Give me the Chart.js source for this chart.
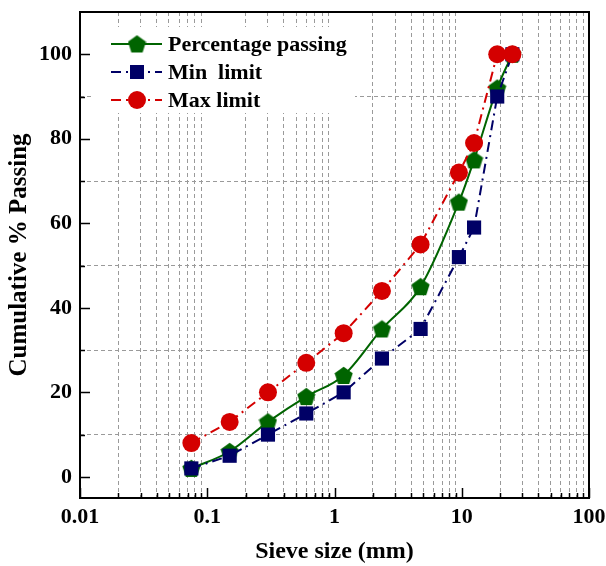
<!DOCTYPE html>
<html>
<head>
<meta charset="utf-8">
<script src="https://cdn.jsdelivr.net/npm/chart.js@4.4.1/dist/chart.umd.min.js"></script>
<style>
html,body{margin:0;padding:0;background:#fff;}
#wrap{width:606px;height:566px;position:relative;}
</style>
</head>
<body>
<div id="wrap"><canvas id="c" width="606" height="566"></canvas></div>
<script>
// ---- data ----
const sieveSizes = [0.075, 0.15, 0.3, 0.6, 1.18, 2.36, 4.75, 9.5, 12.5, 19, 25];
const percentagePassing = [2, 6, 13, 19, 24, 35, 45, 65, 75, 92, 100];
const minLimit = [2, 5, 10, 15, 20, 28, 35, 52, 59, 90, 100];
const maxLimit = [8, 13, 20, 27, 34, 44, 55, 72, 79, 100, 100];
const xDecades = [0.01, 0.1, 1, 10, 100];
const xDecadeLabels = ['0.01', '0.1', '1', '10', '100'];
const yTickValues = [0, 10, 20, 30, 40, 50, 60, 70, 80, 90, 100];
const yTickLabels = ['0', '', '20', '', '40', '', '60', '', '80', '', '100'];

const GREEN = '#006400', NAVY = '#000066', RED = '#d40000';
const FONT = '"Liberation Serif", "Times New Roman", serif';

// tick values for log axis (decades plus 2..9 multiples)
const xTickValues = [];
xDecades.forEach((d, i) => {
  xTickValues.push(d);
  if (i < xDecades.length - 1) for (let m = 2; m <= 9; m++) xTickValues.push(+(d * m).toPrecision(6));
});
function isDecade(v) { return xDecades.some(d => Math.abs(d - v) / d < 1e-6); }

// pentagon marker
function makePentagon(size, color) {
  const c = document.createElement('canvas');
  c.width = size; c.height = size;
  const g = c.getContext('2d');
  const r = size / 2, cx = size / 2, cy = size / 2 + 0.8;
  g.beginPath();
  for (let i = 0; i < 5; i++) {
    const a = -Math.PI / 2 + i * 2 * Math.PI / 5;
    const px = cx + r * Math.cos(a), py = cy + r * Math.sin(a);
    if (i === 0) g.moveTo(px, py); else g.lineTo(px, py);
  }
  g.closePath();
  g.fillStyle = color; g.fill();
  return c;
}
const pentagon = makePentagon(19, GREEN);

const toXY = (ys) => sieveSizes.map((x, i) => ({ x: x, y: ys[i] }));

const framePlugin = {
  id: 'frame',
  afterDraw(chart) {
    const { ctx, chartArea: a } = chart;
    const xs = chart.scales.x, ys = chart.scales.y;
    ctx.save();
    // legend
    ctx.fillStyle = '#fff';
    ctx.fillRect(93, 27, 262, 86);
    const rows = [
      { y: 44, color: GREEN, dash: [], label: 'Percentage passing', mk: 'pent' },
      { y: 72, color: NAVY, dash: [10, 5, 2, 5], label: 'Min  limit', mk: 'rect' },
      { y: 100, color: RED, dash: [10, 5, 2, 5], label: 'Max limit', mk: 'circ' }
    ];
    rows.forEach(r => {
      ctx.strokeStyle = r.color; ctx.lineWidth = 2; ctx.setLineDash(r.dash);
      ctx.beginPath(); ctx.moveTo(111, r.y); ctx.lineTo(162, r.y); ctx.stroke();
      ctx.setLineDash([]);
      ctx.fillStyle = r.color;
      if (r.mk === 'pent') ctx.drawImage(pentagon, 137 - 9.5, r.y - 9.5);
      if (r.mk === 'rect') ctx.fillRect(137 - 7, r.y - 7, 14, 14);
      if (r.mk === 'circ') { ctx.beginPath(); ctx.arc(137, r.y, 9, 0, Math.PI * 2); ctx.fill(); }
      ctx.fillStyle = '#000';
      ctx.font = 'bold 22px ' + FONT;
      ctx.textBaseline = 'middle'; ctx.textAlign = 'left';
      ctx.fillText(r.label, 168, r.y + 1);
    });
    // frame
    ctx.strokeStyle = '#000'; ctx.lineWidth = 2;
    ctx.strokeRect(a.left, a.top, a.right - a.left, a.bottom - a.top);
    // inward ticks
    ctx.lineWidth = 1.5;
    ctx.beginPath();
    xTickValues.forEach(v => {
      const px = Math.round(xs.getPixelForValue(v)) + 0.5;
      const len = isDecade(v) ? 10 : 5;
      ctx.moveTo(px, a.bottom); ctx.lineTo(px, a.bottom - len);
    });
    yTickValues.forEach((v, i) => {
      const py = Math.round(ys.getPixelForValue(v)) + 0.5;
      const len = (yTickLabels[i] !== '') ? 10 : 5;
      ctx.moveTo(a.left, py); ctx.lineTo(a.left + len, py);
    });
    ctx.stroke();
    ctx.restore();
  }
};

new Chart(document.getElementById('c'), {
  type: 'line',
  data: {
    datasets: [
      { label: 'Max limit', data: toXY(maxLimit), borderColor: RED, backgroundColor: RED,
        borderWidth: 2, borderDash: [10, 5, 2, 5], pointStyle: 'circle', pointRadius: 9,
        pointBorderWidth: 0, order: 0 },
      { label: 'Min  limit', data: toXY(minLimit), borderColor: NAVY, backgroundColor: NAVY,
        borderWidth: 2, borderDash: [10, 5, 2, 5], pointStyle: 'rect', pointRadius: 10,
        pointBorderWidth: 0, order: 1 },
      { label: 'Percentage passing', data: toXY(percentagePassing), borderColor: GREEN, backgroundColor: GREEN,
        borderWidth: 2, cubicInterpolationMode: 'monotone', pointStyle: pentagon, pointRadius: 9,
        pointBorderWidth: 0, order: 2 }
    ]
  },
  options: {
    responsive: false,
    animation: false,
    devicePixelRatio: 1,
    layout: { padding: { left: 0, top: 12, right: 17, bottom: 0 } },
    plugins: { legend: { display: false }, tooltip: { enabled: false } },
    scales: {
      x: {
        type: 'logarithmic', min: 0.01, max: 100,
        afterFit(s) { s.height = 68; s.paddingLeft = 0; s.paddingRight = 0; },
        afterBuildTicks(s) { s.ticks = xTickValues.map(v => ({ value: v })); },
        ticks: {
          autoSkip: false, maxRotation: 0, padding: 6, color: '#000',
          font: { family: FONT, size: 22, weight: 'bold' },
          callback(v) { const i = xDecades.findIndex(d => Math.abs(d - v) / d < 1e-6); return i >= 0 ? xDecadeLabels[i] : ''; }
        },
        grid: {
          drawTicks: false,
          color(c) { return (c.tick && !isDecade(c.tick.value)) ? '#9a9a9a' : 'rgba(0,0,0,0)'; },
          lineWidth: 1
        },
        border: { display: false, dash: [4, 3] },
        title: { display: true, text: 'Sieve size (mm)', color: '#000',
          font: { family: FONT, size: 24, weight: 'bold' }, padding: { top: 0, bottom: 0 } }
      },
      y: {
        type: 'linear', min: -5, max: 110,
        afterFit(s) { s.width = 80; s.paddingTop = 0; s.paddingBottom = 0; },
        afterBuildTicks(s) { s.ticks = yTickValues.map(v => ({ value: v })); },
        ticks: {
          autoSkip: false, padding: 8, color: '#000',
          font: { family: FONT, size: 22, weight: 'bold' },
          callback(v) { const i = yTickValues.indexOf(v); return i >= 0 ? yTickLabels[i] : ''; }
        },
        grid: {
          drawTicks: false,
          color(c) { return (c.tick && c.tick.value % 20 !== 0) ? '#9a9a9a' : 'rgba(0,0,0,0)'; },
          lineWidth: 1
        },
        border: { display: false, dash: [4, 3] },
        title: { display: true, text: 'Cumulative % Passing', color: '#000',
          font: { family: FONT, size: 25, weight: 'bold' }, padding: { top: 5, bottom: 0 } }
      }
    }
  },
  plugins: [framePlugin]
});
</script>
</body>
</html>
